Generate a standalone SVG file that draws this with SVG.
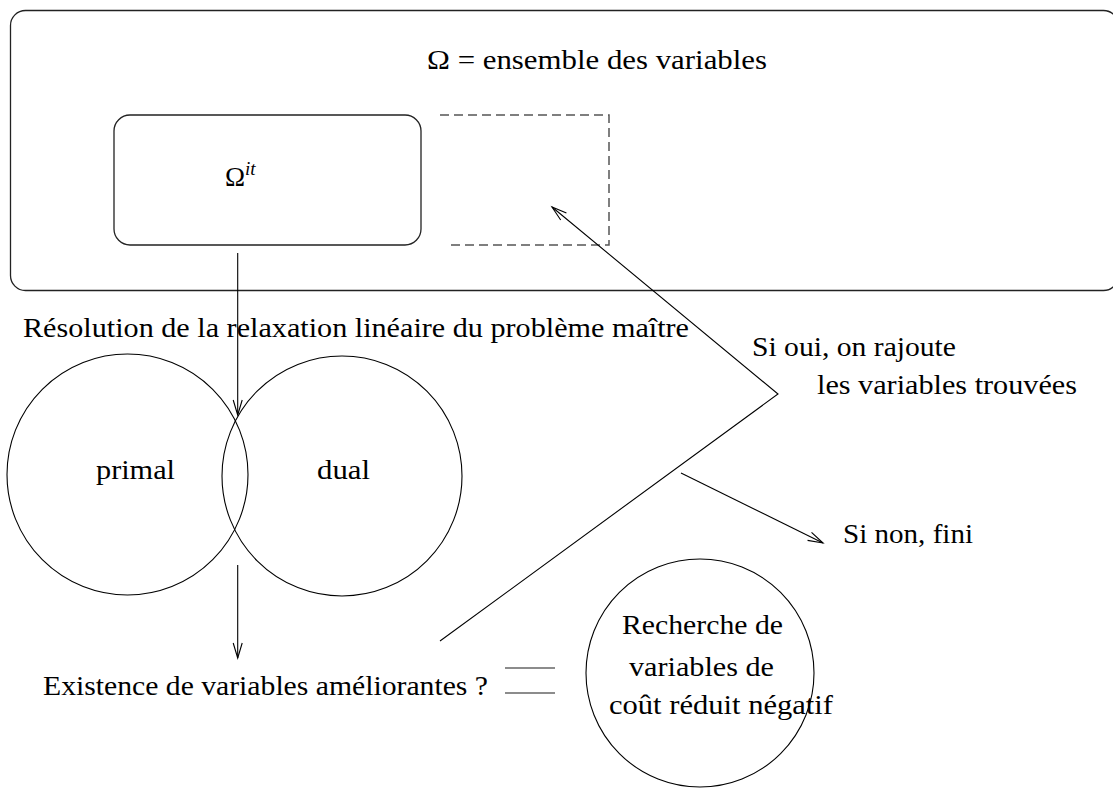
<svg xmlns="http://www.w3.org/2000/svg" width="1113" height="788" viewBox="0 0 1113 788">
<style>
text{font-family:"Liberation Serif","DejaVu Serif",serif;font-size:27px;fill:#000}
.box{fill:none;stroke:#222;stroke-width:1.3}
.circ{fill:none;stroke:#000;stroke-width:1.1}
.dash{fill:none;stroke:#555;stroke-width:1.5;stroke-dasharray:9 5}
.conn{fill:none;stroke:#000;stroke-width:1.1}
.gray{fill:none;stroke:#666;stroke-width:1.6}
</style>
<defs>
<marker id="arr" markerWidth="20" markerHeight="14" refX="0" refY="0" viewBox="-16 -7 20 14" orient="auto" markerUnits="userSpaceOnUse">
<path d="M-15,-4.5 L0,0 L-15,4.5" fill="none" stroke="#000" stroke-width="1.1"/>
</marker>
</defs>
<rect width="1113" height="788" fill="#fff"/>
<g id="omega">
<rect class="box" x="10.5" y="10.5" width="1108" height="280" rx="15" ry="15"/>
<text x="427" y="69" textLength="340" lengthAdjust="spacingAndGlyphs">Ω = ensemble des variables</text>
</g>
<g id="omega-it">
<rect class="box" x="114" y="115" width="307" height="130" rx="16" ry="16"/>
<text x="225" y="186"><tspan font-size="27">Ω</tspan><tspan font-style="italic" font-size="19" dy="-11">it</tspan></text>
</g>
<g id="new-vars">
<polyline class="dash" points="440,115 609,115 609,245 447,245"/>
</g>
<g id="resolution-label">
<text x="23" y="337" textLength="666" lengthAdjust="spacingAndGlyphs">Résolution de la relaxation linéaire du problème maître</text>
</g>
<g id="primal">
<circle class="circ" cx="127.5" cy="474.5" r="120.5"/>
<text x="96" y="479" textLength="79" lengthAdjust="spacingAndGlyphs">primal</text>
</g>
<g id="dual">
<circle class="circ" cx="342" cy="476" r="120"/>
<text x="317" y="479" textLength="53" lengthAdjust="spacingAndGlyphs">dual</text>
</g>
<g id="existence">
<text x="43" y="695" textLength="445" lengthAdjust="spacingAndGlyphs">Existence de variables améliorantes ?</text>
<line class="gray" x1="505" y1="668" x2="555" y2="668"/>
<line class="gray" x1="505" y1="693" x2="555" y2="693"/>
</g>
<g id="recherche">
<circle class="circ" cx="700" cy="673" r="114"/>
<text x="622" y="634" textLength="161" lengthAdjust="spacingAndGlyphs">Recherche de</text>
<text x="629" y="676" textLength="145" lengthAdjust="spacingAndGlyphs">variables de</text>
<text x="609" y="714" textLength="224" lengthAdjust="spacingAndGlyphs">coût réduit négatif</text>
</g>
<g id="labels">
<text x="752" y="356" textLength="204" lengthAdjust="spacingAndGlyphs">Si oui, on rajoute</text>
<text x="817" y="394" textLength="260" lengthAdjust="spacingAndGlyphs">les variables trouvées</text>
<text x="843" y="543" textLength="130" lengthAdjust="spacingAndGlyphs">Si non, fini</text>
</g>
<g id="connectors">
<line class="conn" x1="237.7" y1="253" x2="237.7" y2="415" marker-end="url(#arr)"/>
<line class="conn" x1="237.7" y1="565" x2="237.7" y2="658" marker-end="url(#arr)"/>
<polyline class="conn" points="440,641 778,394 552,207" marker-end="url(#arr)"/>
<line class="conn" x1="681" y1="473" x2="823" y2="543" marker-end="url(#arr)"/>
</g>
</svg>
